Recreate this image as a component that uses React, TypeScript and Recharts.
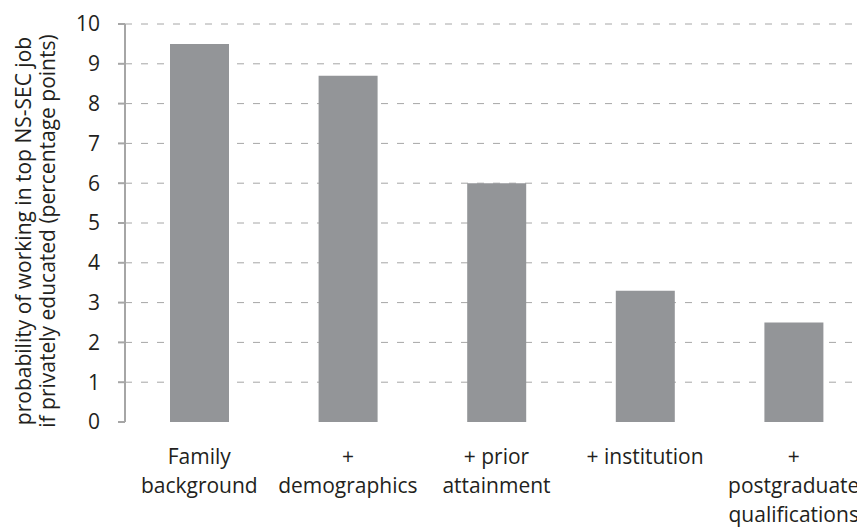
import { BarChart, Bar, XAxis, YAxis, CartesianGrid } from 'recharts';

const categories = [
  'Family\nbackground',
  '+\ndemographics',
  '+ prior\nattainment',
  '+ institution',
  '+\npostgraduate\nqualifications',
];
const values = [9.5, 8.7, 6.0, 3.3, 2.5];
const yTicks = [0, 1, 2, 3, 4, 5, 6, 7, 8, 9, 10];
const boundaryTicks = [0, 1, 2, 3, 4, 5];
const yLabelLines = [
  'probability of working in top NS-SEC job',
  'if privately educated (percentage points)',
];

const data = categories.map((name, i) => ({ name, value: values[i] }));

const FONT = '"Open Sans", Lato, sans-serif';
const AXIS = '#a6a6a6';
const TEXT = '#231f20';

function CategoryTick(props: any) {
  const { x, y, payload } = props;
  const lines = String(payload.value).split('\n');
  return (
    <text x={x} y={y} textAnchor="middle" fill={TEXT} fontSize={21} fontFamily={FONT}>
      {lines.map((line, i) => (
        <tspan key={i} x={x} dy={i === 0 ? 34 : 29}>
          {line}
        </tspan>
      ))}
    </text>
  );
}

function YLabel(props: any) {
  const { viewBox } = props;
  const cy = viewBox.y + viewBox.height / 2 + 8;
  return (
    <g>
      {yLabelLines.map((line, i) => {
        const cx = 31 + i * 24;
        return (
          <text
            key={i}
            x={cx}
            y={cy}
            transform={`rotate(-90, ${cx}, ${cy})`}
            textAnchor="middle"
            fill={TEXT}
            fontSize={21}
            fontFamily={FONT}
          >
            {line}
          </text>
        );
      })}
    </g>
  );
}

export default function App() {
  return (
    <div
      style={{
        position: 'absolute',
        left: 0,
        top: 0,
        width: 857,
        height: 528,
        overflow: 'hidden',
        background: '#fff',
      }}
    >
      <BarChart
        width={868}
        height={528}
        data={data}
        margin={{ top: 24, right: 0, left: 50, bottom: 0 }}
      >
        <CartesianGrid
          vertical={false}
          stroke={AXIS}
          strokeDasharray="7 9"
          horizontalValues={yTicks.slice(1)}
        />
        <XAxis
          xAxisId="bounds"
          type="number"
          domain={[0, 5]}
          ticks={boundaryTicks}
          allowDataOverflow
          height={0}
          tick={() => <g />}
          tickSize={7}
          axisLine={{ stroke: AXIS, strokeWidth: 2 }}
          tickLine={{ stroke: AXIS, strokeWidth: 2 }}
        />
        <XAxis
          dataKey="name"
          height={106}
          axisLine={false}
          tickLine={false}
          interval={0}
          tick={<CategoryTick />}
        />
        <YAxis
          width={75}
          domain={[0, 10]}
          ticks={yTicks}
          interval={0}
          tickSize={7}
          tickMargin={18}
          axisLine={{ stroke: AXIS, strokeWidth: 2 }}
          tickLine={{ stroke: AXIS, strokeWidth: 2 }}
          tick={{ fill: TEXT, fontSize: 21, fontFamily: FONT }}
          label={{ content: <YLabel /> }}
        />
        <Bar dataKey="value" fill="#939598" barSize={59} isAnimationActive={false} />
      </BarChart>
    </div>
  );
}
